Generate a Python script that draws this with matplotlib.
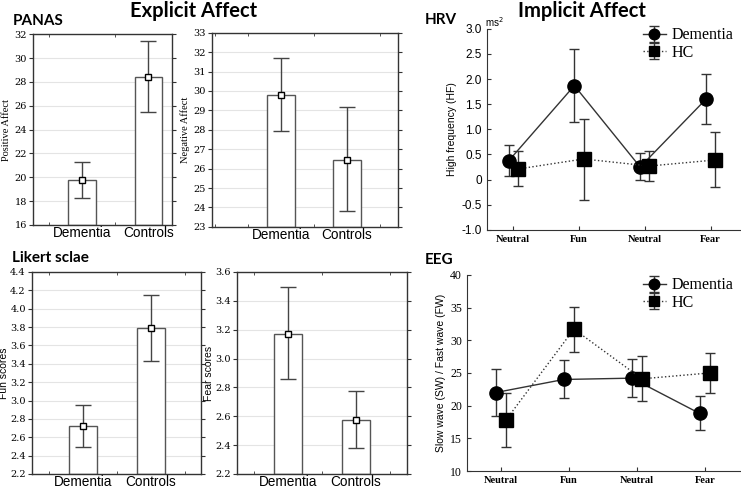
import numpy as np
import matplotlib
matplotlib.use("Agg")
import matplotlib.pyplot as plt
from matplotlib.ticker import FuncFormatter

# ---- data ----
groups = ["Dementia", "Controls"]

pos_mean = [19.8, 28.4]
pos_low = [18.3, 25.45]
pos_high = [21.3, 31.4]

neg_mean = [29.8, 26.45]
neg_low = [27.95, 23.8]
neg_high = [31.7, 29.15]

fun_mean = [2.72, 3.79]
fun_low = [2.49, 3.43]
fun_high = [2.95, 4.15]

fear_mean = [3.17, 2.575]
fear_low = [2.855, 2.38]
fear_high = [3.495, 2.775]

conditions = ["Neutral", "Fun", "Neutral", "Fear"]

hrv_dem = [0.37, 1.87, 0.25, 1.60]
hrv_dem_low = [0.07, 1.15, 0.0, 1.11]
hrv_dem_high = [0.68, 2.60, 0.52, 2.10]
hrv_hc = [0.21, 0.41, 0.27, 0.39]
hrv_hc_low = [-0.13, -0.40, -0.02, -0.15]
hrv_hc_high = [0.56, 1.21, 0.56, 0.95]

eeg_dem = [22.0, 24.0, 24.2, 18.8]
eeg_dem_low = [18.4, 21.1, 21.3, 16.3]
eeg_dem_high = [25.6, 27.0, 27.1, 21.4]
eeg_hc = [17.8, 31.7, 24.1, 25.0]
eeg_hc_low = [13.6, 28.2, 20.7, 22.0]
eeg_hc_high = [22.0, 35.1, 27.6, 28.0]

SERIF = "Liberation Serif"
TICKSERIF = "DejaVu Serif"
SANS = "Liberation Sans"
HEAD = "Lato"


def bar_panel(ax, means, lows, highs, ylim, step, ylabel, ylabel_font, xlim, lpad=2):
    """Statistica-style bar chart with mean markers and whiskers."""
    means = np.asarray(means)
    x = np.arange(len(groups))
    ax.bar(x, means - ylim[0], bottom=ylim[0], width=0.41, color="white",
           edgecolor="#555555", linewidth=1.0, zorder=2)
    yerr = [means - np.asarray(lows), np.asarray(highs) - means]
    ax.errorbar(x, means, yerr=yerr, fmt="s", ms=4.5, mfc="white", mec="black",
                mew=1.0, ecolor="#444444", elinewidth=1.0, capsize=6, capthick=1.0,
                zorder=3)
    yt = np.arange(ylim[0], ylim[1] + step / 2, step)
    ax.set_yticks(yt)
    dec = 0 if step >= 1 else 1
    ax.set_yticklabels([f"{v:.{dec}f}" for v in yt], fontfamily=TICKSERIF, fontsize=7)
    ax.yaxis.grid(True, color="#e4e4e4", linewidth=0.8, zorder=0)
    ax.set_axisbelow(True)
    ax.set_xticks(x)
    ax.set_xticklabels(groups, fontfamily=SANS, fontsize=9.8)
    ax.tick_params(axis="x", length=0, pad=1)
    ax.set_xticks(np.arange(-1.0, 2.01, 0.5), minor=True)
    ax.tick_params(axis="x", which="minor", direction="in", length=2.5,
                   top=True, bottom=True, color="#333333")
    ax.tick_params(axis="y", direction="out", length=3, pad=1.5, right=True,
                   color="#333333")
    ax.set_ylabel(ylabel, fontfamily=ylabel_font, fontsize=7.5, labelpad=lpad)
    # limits last: set_xticks may widen the view
    ax.set_xlim(*xlim)
    ax.set_ylim(*ylim)
    for s in ax.spines.values():
        s.set_color("#333333")
        s.set_linewidth(1.0)


def line_panel(ax, dem, dl, dh, hc, hl, hh, ylim, yticks, ylabel, xlim, off, yfont,
               leg_anchor):
    x = np.arange(len(conditions))
    dem = np.asarray(dem)
    hc = np.asarray(hc)
    e1 = ax.errorbar(x - off, dem, yerr=[dem - np.asarray(dl), np.asarray(dh) - dem],
                     fmt="o-", color="#333333", lw=1.0, ms=9.5, mfc="black",
                     mec="black", ecolor="#333333", elinewidth=1.0, capsize=3.5,
                     label="Dementia", zorder=3)
    e2 = ax.errorbar(x + off, hc, yerr=[hc - np.asarray(hl), np.asarray(hh) - hc],
                     fmt="s:", color="#333333", lw=1.0, ms=9.5, mfc="black",
                     mec="black", ecolor="#333333", elinewidth=1.0, capsize=3.5,
                     label="HC", zorder=3)
    ax.set_xticks(x)
    ax.set_xticklabels(conditions, fontfamily=SERIF, fontsize=7.5, fontweight="bold")
    ax.set_yticks(yticks)
    ax.set_xlim(*xlim)
    ax.set_ylim(*ylim)
    ax.tick_params(axis="both", direction="in", length=3, color="#333333")
    ax.tick_params(axis="y", labelsize=8.5)
    for lbl in ax.get_yticklabels():
        lbl.set_fontfamily(yfont)
    ax.set_ylabel(ylabel, fontfamily=SANS, fontsize=7.5, labelpad=3)
    ax.spines["top"].set_visible(False)
    ax.spines["right"].set_visible(False)
    for s in ("left", "bottom"):
        ax.spines[s].set_color("#333333")
    leg = ax.legend(handles=[e1, e2], loc="upper right", bbox_to_anchor=leg_anchor,
                    frameon=False, prop={"family": SERIF, "size": 11.5},
                    handlelength=1.5, handletextpad=0.3, labelspacing=0.1,
                    borderaxespad=0.0, markerscale=0.8)
    return leg


fig = plt.figure(figsize=(7.41, 4.88), dpi=100)

ax1 = fig.add_axes([0.0445, 0.539, 0.1876, 0.391])
bar_panel(ax1, pos_mean, pos_low, pos_high, (16, 32), 2, "Positive Affect", SERIF,
          (-0.74, 1.36))

ax2 = fig.add_axes([0.286, 0.535, 0.251, 0.398])
bar_panel(ax2, neg_mean, neg_low, neg_high, (23, 33), 1, "Negative Affect", SERIF,
          (-1.045, 1.77))

ax3 = fig.add_axes([0.0432, 0.0287, 0.228, 0.414])
bar_panel(ax3, fun_mean, fun_low, fun_high, (2.2, 4.4), 0.2, "Fun scores", SANS,
          (-0.75, 1.74), lpad=1)

ax4 = fig.add_axes([0.320, 0.0287, 0.229, 0.414])
bar_panel(ax4, fear_mean, fear_low, fear_high, (2.2, 3.6), 0.2, "Fear scores", SANS,
          (-0.75, 1.75), lpad=1)

ax5 = fig.add_axes([0.657, 0.529, 0.341, 0.412])
line_panel(ax5, hrv_dem, hrv_dem_low, hrv_dem_high, hrv_hc, hrv_hc_low, hrv_hc_high,
           (-1.0, 3.0), np.arange(-1.0, 3.01, 0.5), "High frequency (HF)",
           (-0.4, 3.44), 0.07, SANS, (1.0, 1.04))
ax5.yaxis.set_major_formatter(FuncFormatter(lambda v, p: "0" if abs(v) < 1e-9 else f"{v:.1f}"))

ax6 = fig.add_axes([0.630, 0.0348, 0.368, 0.402])
line_panel(ax6, eeg_dem, eeg_dem_low, eeg_dem_high, eeg_hc, eeg_hc_low, eeg_hc_high,
           (10, 40), np.arange(10, 41, 5), "Slow wave (SW) / Fast wave (FW)",
           (-0.5, 3.51), 0.075, SERIF, (1.0, 1.02))

# headings
fig.text(194 / 741, 1 - 11 / 488, "Explicit Affect", ha="center", va="center",
         fontfamily=HEAD, fontweight="bold", fontsize=14.5)
fig.text(582 / 741, 1 - 11 / 488, "Implicit Affect", ha="center", va="center",
         fontfamily=HEAD, fontweight="bold", fontsize=14.5)
fig.text(13 / 741, 1 - 21 / 488, "PANAS", ha="left", va="center",
         fontfamily=HEAD, fontweight="bold", fontsize=11)
fig.text(425 / 741, 1 - 20 / 488, "HRV", ha="left", va="center",
         fontfamily=HEAD, fontweight="bold", fontsize=11)
fig.text(12 / 741, 1 - 258 / 488, "Likert sclae", ha="left", va="center",
         fontfamily=HEAD, fontweight="bold", fontsize=11)
fig.text(425 / 741, 1 - 260 / 488, "EEG", ha="left", va="center",
         fontfamily=HEAD, fontweight="bold", fontsize=11)
fig.text(494 / 741, 1 - 22 / 488, "ms$^2$", ha="center", va="center",
         fontfamily=SANS, fontsize=7)

fig.savefig("out.png", dpi=100)
